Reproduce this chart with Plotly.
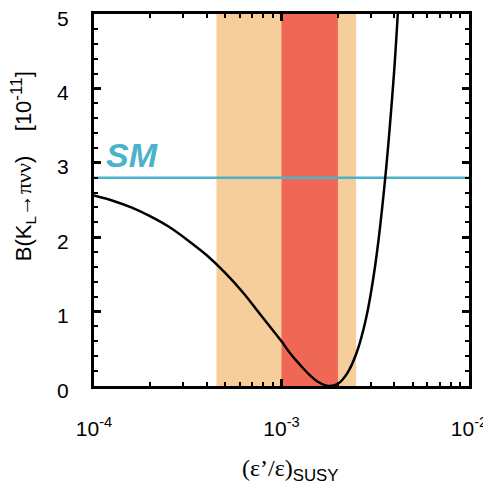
import plotly.graph_objects as go

# ---- data ----
curve_x = [1.0e-4, 1.26e-4, 1.58e-4, 2.0e-4, 2.51e-4, 3.16e-4, 3.98e-4, 5.01e-4,
           6.31e-4, 7.94e-4, 1.0e-3, 1.12e-3, 1.26e-3, 1.41e-3, 1.58e-3, 1.78e-3,
           2.0e-3, 2.24e-3, 2.51e-3, 2.82e-3, 3.16e-3, 3.55e-3, 3.98e-3, 4.17e-3]
curve_y = [2.56, 2.49, 2.40, 2.28, 2.14, 1.96, 1.76, 1.52,
           1.24, 0.92, 0.60, 0.43, 0.28, 0.15, 0.05, 0.00,
           0.03, 0.17, 0.44, 0.90, 1.62, 2.72, 4.20, 5.0]

sm_value = 2.8
sm_x = [1e-4, 1e-2]
band_wide = [4.5e-4, 2.5e-3]    # light (orange) band
band_narrow = [1.0e-3, 2.0e-3]  # dark (red) band

x_tick_vals = [1e-4, 1e-3, 1e-2]
x_tick_text = ["10<sup>-4</sup>", "10<sup>-3</sup>", "10<sup>-2</sup>"]
x_minor_vals = [m * 10.0 ** e for e in (-4, -3) for m in range(2, 10)]
y_tick_vals = [0, 1, 2, 3, 4, 5]
y_tick_text = ["0", "1", "2", "3", "4", "5"]

ORANGE = "#F5CE9B"
RED = "#EF6856"
CYAN = "#4AB2CA"

fig = go.Figure()

fig.add_shape(type="rect", xref="x", yref="paper", x0=band_wide[0], x1=band_wide[1],
              y0=0, y1=1, fillcolor=ORANGE, line_width=0, layer="below")
fig.add_shape(type="rect", xref="x", yref="paper", x0=band_narrow[0], x1=band_narrow[1],
              y0=0, y1=1, fillcolor=RED, line_width=0, layer="below")

fig.add_trace(go.Scatter(x=sm_x, y=[sm_value] * len(sm_x), mode="lines",
                         line=dict(color=CYAN, width=2.5), showlegend=False, hoverinfo="skip"))
fig.add_trace(go.Scatter(x=curve_x, y=curve_y, mode="lines",
                         line=dict(color="black", width=2.5, shape="spline", smoothing=0.8),
                         showlegend=False))

SANS = "Liberation Sans, Arial, Helvetica, sans-serif"

# page body has an 8px default margin, so the figure is sized/offset to compensate
fig.update_layout(
    width=483, height=478,
    margin=dict(l=86, r=22, t=6, b=100, autoexpand=False),
    plot_bgcolor="white", paper_bgcolor="white",
    font=dict(family=SANS, color="black", size=20),
    xaxis=dict(
        type="log", range=[-4, -2], automargin=False,
        tickmode="array", tickvals=x_tick_vals, ticktext=x_tick_text,
        ticks="inside", ticklen=7, tickwidth=2.5, tickcolor="black",
        showline=True, linewidth=3, linecolor="black", mirror="allticks",
        showgrid=False, zeroline=False,
        tickfont=dict(size=21, family=SANS),
        ticklabelstandoff=22, ticklabeloverflow="allow",
        minor=dict(tickmode="array", tickvals=x_minor_vals, ticks="inside",
                   ticklen=4, tickwidth=2, tickcolor="black", showgrid=False),
    ),
    yaxis=dict(
        range=[0, 5], tickmode="array", tickvals=y_tick_vals, automargin=False,
        showticklabels=False,
        ticks="inside", ticklen=7, tickwidth=2.5, tickcolor="black",
        showline=True, linewidth=3, linecolor="black", mirror="allticks",
        showgrid=False, zeroline=False,
        minor=dict(dtick=0.2, ticks="inside", ticklen=4, tickwidth=2,
                   tickcolor="black", showgrid=False),
    ),
)

# y tick labels, positioned on the y scale but set further out from the axis
for val, txt in zip(y_tick_vals, y_tick_text):
    fig.add_annotation(
        text=txt, xref="paper", yref="y", x=-0.061, y=val,
        xanchor="right", yanchor="middle", yshift=-4, showarrow=False,
        font=dict(family=SANS, size=21, color="black"),
    )

fig.add_annotation(
    text="<b><i>SM</i></b>", xref="paper", yref="paper", x=0.027, y=0.621,
    xanchor="left", yanchor="middle", showarrow=False,
    font=dict(family=SANS, size=34, color=CYAN),
)

fig.add_annotation(
    text=("B(K<sub>L</sub>\u2192<span style='font-family:Liberation Serif'>\u03c0\u03bd\u03bd</span>)"
          "    [10<sup><span style='font-size:17px'>-11</span></sup>]"),
    xref="paper", yref="paper", x=-0.189, y=0.591,
    xanchor="center", yanchor="middle", textangle=-90, showarrow=False,
    font=dict(family=SANS, size=22, color="black"),
)

fig.add_annotation(
    text=("<span style='font-family:Liberation Serif'>(\u03b5\u2019/\u03b5)</span>"
          "<sub>SUSY</sub>"),
    xref="paper", yref="paper", x=0.525, y=-0.226,
    xanchor="center", yanchor="middle", showarrow=False,
    font=dict(family=SANS, size=24, color="black"),
)

fig.write_html("out.html")
